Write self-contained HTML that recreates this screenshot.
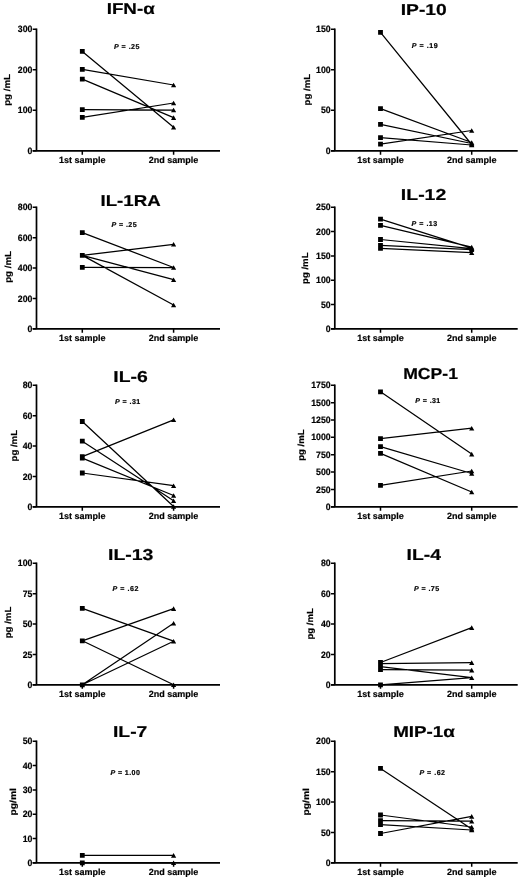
<!DOCTYPE html>
<html><head><meta charset="utf-8"><style>
html,body{margin:0;padding:0;background:#fff;width:520px;height:880px;overflow:hidden}
svg{display:block;filter:grayscale(100%)}
text{font-family:"Liberation Sans",sans-serif;font-weight:bold;fill:#000;text-rendering:geometricPrecision;stroke:#000;stroke-width:0.2}
.ax{stroke:#000;stroke-width:1.7;fill:none}
.tk{stroke:#000;stroke-width:1.5;fill:none}
.dl{stroke:#000;stroke-width:1.25;fill:none}
.mk{fill:#000}
</style></head><body>
<svg width="520" height="880" viewBox="0 0 520 880">
<path d="M36.5 28.45V150.8M32.7 150.8H220" class="ax"/>
<path d="M32.7 150.8H36.5M32.7 110.3H36.5M32.7 69.8H36.5M32.7 29.3H36.5M82.3 150.8V154.8M173.6 150.8V154.8" class="tk"/>
<path d="M82.3 51.4L173.6 127.3M82.3 69.4L173.6 85M82.3 79.1L173.6 117.6M82.3 109.7L173.6 110M82.3 117.3L173.6 103" class="dl"/>
<path d="M79.9 49h4.8v4.8h-4.8zM173.6 125L176.2 129.6H171zM79.9 67h4.8v4.8h-4.8zM173.6 82.7L176.2 87.3H171zM79.9 76.7h4.8v4.8h-4.8zM173.6 115.3L176.2 119.9H171zM79.9 107.3h4.8v4.8h-4.8zM173.6 107.7L176.2 112.3H171zM79.9 114.9h4.8v4.8h-4.8zM173.6 100.7L176.2 105.3H171z" class="mk"/>
<path d="M334.8 28.45V150.8M331 150.8H517.7" class="ax"/>
<path d="M331 150.8H334.8M331 110.3H334.8M331 69.8H334.8M331 29.3H334.8M380.5 150.8V154.8M471.7 150.8V154.8" class="tk"/>
<path d="M380.5 32.4L471.7 144.5M380.5 108.7L471.7 142.5M380.5 124.4L471.7 143.5M380.5 137.6L471.7 145M380.5 144.2L471.7 130.5" class="dl"/>
<path d="M378.1 30h4.8v4.8h-4.8zM471.7 142.2L474.3 146.8H469.1zM378.1 106.3h4.8v4.8h-4.8zM471.7 140.2L474.3 144.8H469.1zM378.1 122h4.8v4.8h-4.8zM471.7 141.2L474.3 145.8H469.1zM378.1 135.2h4.8v4.8h-4.8zM471.7 142.7L474.3 147.3H469.1zM378.1 141.8h4.8v4.8h-4.8zM471.7 128.2L474.3 132.8H469.1z" class="mk"/>
<path d="M36.5 206.45V328.8M32.7 328.8H220" class="ax"/>
<path d="M32.7 328.8H36.5M32.7 298.43H36.5M32.7 268.05H36.5M32.7 237.68H36.5M32.7 207.3H36.5M82.3 328.8V332.8M173.6 328.8V332.8" class="tk"/>
<path d="M82.3 232.6L173.6 267.5M82.3 255.4L173.6 244.3M82.3 255.4L173.6 279.7M82.3 255.4L173.6 305M82.3 267.3L173.6 267.5" class="dl"/>
<path d="M79.9 230.2h4.8v4.8h-4.8zM173.6 265.2L176.2 269.8H171zM79.9 253h4.8v4.8h-4.8zM173.6 242L176.2 246.6H171zM79.9 253h4.8v4.8h-4.8zM173.6 277.4L176.2 282H171zM79.9 253h4.8v4.8h-4.8zM173.6 302.7L176.2 307.3H171zM79.9 264.9h4.8v4.8h-4.8zM173.6 265.2L176.2 269.8H171z" class="mk"/>
<path d="M334.8 206.45V328.8M331 328.8H517.7" class="ax"/>
<path d="M331 328.8H334.8M331 304.5H334.8M331 280.2H334.8M331 255.9H334.8M331 231.6H334.8M331 207.3H334.8M380.5 328.8V332.8M471.7 328.8V332.8" class="tk"/>
<path d="M380.5 219.1L471.7 248.1M380.5 225.4L471.7 247.1M380.5 239.5L471.7 248.6M380.5 245.3L471.7 249.6M380.5 248.4L471.7 252.6" class="dl"/>
<path d="M378.1 216.7h4.8v4.8h-4.8zM471.7 245.8L474.3 250.4H469.1zM378.1 223h4.8v4.8h-4.8zM471.7 244.8L474.3 249.4H469.1zM378.1 237.1h4.8v4.8h-4.8zM471.7 246.3L474.3 250.9H469.1zM378.1 242.9h4.8v4.8h-4.8zM471.7 247.3L474.3 251.9H469.1zM378.1 246h4.8v4.8h-4.8zM471.7 250.3L474.3 254.9H469.1z" class="mk"/>
<path d="M36.5 384.45V506.8M32.7 506.8H220" class="ax"/>
<path d="M32.7 506.8H36.5M32.7 476.43H36.5M32.7 446.05H36.5M32.7 415.68H36.5M32.7 385.3H36.5M82.3 506.8V510.8M173.6 506.8V510.8" class="tk"/>
<path d="M82.3 421.5L173.6 506.5M82.3 441.2L173.6 500.7M82.3 458.2L173.6 495.5M82.3 456.6L173.6 419.8M82.3 473L173.6 485.7" class="dl"/>
<path d="M79.9 419.1h4.8v4.8h-4.8zM173.6 504.2L176.2 508.8H171zM79.9 438.8h4.8v4.8h-4.8zM173.6 498.4L176.2 503H171zM79.9 455.8h4.8v4.8h-4.8zM173.6 493.2L176.2 497.8H171zM79.9 454.2h4.8v4.8h-4.8zM173.6 417.5L176.2 422.1H171zM79.9 470.6h4.8v4.8h-4.8zM173.6 483.4L176.2 488H171z" class="mk"/>
<path d="M334.8 384.45V506.8M331 506.8H517.7" class="ax"/>
<path d="M331 506.8H334.8M331 489.44H334.8M331 472.09H334.8M331 454.73H334.8M331 437.37H334.8M331 420.01H334.8M331 402.66H334.8M331 385.3H334.8M380.5 506.8V510.8M471.7 506.8V510.8" class="tk"/>
<path d="M380.5 391.8L471.7 454.1M380.5 438.6L471.7 428.2M380.5 446.7L471.7 473.5M380.5 453.4L471.7 492M380.5 485.4L471.7 471" class="dl"/>
<path d="M378.1 389.4h4.8v4.8h-4.8zM471.7 451.8L474.3 456.4H469.1zM378.1 436.2h4.8v4.8h-4.8zM471.7 425.9L474.3 430.5H469.1zM378.1 444.3h4.8v4.8h-4.8zM471.7 471.2L474.3 475.8H469.1zM378.1 451h4.8v4.8h-4.8zM471.7 489.7L474.3 494.3H469.1zM378.1 483h4.8v4.8h-4.8zM471.7 468.7L474.3 473.3H469.1z" class="mk"/>
<path d="M36.5 562.45V684.8M32.7 684.8H220" class="ax"/>
<path d="M32.7 684.8H36.5M32.7 654.42H36.5M32.7 624.05H36.5M32.7 593.67H36.5M32.7 563.3H36.5M82.3 684.8V688.8M173.6 684.8V688.8" class="tk"/>
<path d="M82.3 608.4L173.6 641.2M82.3 640.8L173.6 608.6M82.3 640.8L173.6 684.8M82.3 684.8L173.6 623.2M82.3 684.8L173.6 641.2" class="dl"/>
<path d="M79.9 606h4.8v4.8h-4.8zM173.6 638.9L176.2 643.5H171zM79.9 638.4h4.8v4.8h-4.8zM173.6 606.3L176.2 610.9H171zM79.9 638.4h4.8v4.8h-4.8zM173.6 682.5L176.2 687.1H171zM79.9 682.4h4.8v4.8h-4.8zM173.6 620.9L176.2 625.5H171zM79.9 682.4h4.8v4.8h-4.8zM173.6 638.9L176.2 643.5H171z" class="mk"/>
<path d="M334.8 562.45V684.8M331 684.8H517.7" class="ax"/>
<path d="M331 684.8H334.8M331 654.42H334.8M331 624.05H334.8M331 593.67H334.8M331 563.3H334.8M380.5 684.8V688.8M471.7 684.8V688.8" class="tk"/>
<path d="M380.5 662.5L471.7 627.6M380.5 663.5L471.7 662.6M380.5 666.6L471.7 677.7M380.5 669.6L471.7 670.1M380.5 684.8L471.7 677.7" class="dl"/>
<path d="M378.1 660.1h4.8v4.8h-4.8zM471.7 625.3L474.3 629.9H469.1zM378.1 661.1h4.8v4.8h-4.8zM471.7 660.3L474.3 664.9H469.1zM378.1 664.2h4.8v4.8h-4.8zM471.7 675.4L474.3 680H469.1zM378.1 667.2h4.8v4.8h-4.8zM471.7 667.8L474.3 672.4H469.1zM378.1 682.4h4.8v4.8h-4.8zM471.7 675.4L474.3 680H469.1z" class="mk"/>
<path d="M36.5 740.45V862.8M32.7 862.8H220" class="ax"/>
<path d="M32.7 862.8H36.5M32.7 838.5H36.5M32.7 814.2H36.5M32.7 789.9H36.5M32.7 765.6H36.5M32.7 741.3H36.5M82.3 862.8V866.8M173.6 862.8V866.8" class="tk"/>
<path d="M82.3 855.4L173.6 855.4M82.3 862.8L173.6 862.8" class="dl"/>
<path d="M79.9 853h4.8v4.8h-4.8zM173.6 853.1L176.2 857.7H171zM79.9 860.4h4.8v4.8h-4.8zM173.6 860.5L176.2 865.1H171z" class="mk"/>
<path d="M334.8 740.45V862.8M331 862.8H517.7" class="ax"/>
<path d="M331 862.8H334.8M331 832.42H334.8M331 802.05H334.8M331 771.67H334.8M331 741.3H334.8M380.5 862.8V866.8M471.7 862.8V866.8" class="tk"/>
<path d="M380.5 768.4L471.7 829M380.5 815L471.7 827M380.5 820.7L471.7 821.2M380.5 824.7L471.7 830M380.5 833.5L471.7 816.4" class="dl"/>
<path d="M378.1 766h4.8v4.8h-4.8zM471.7 826.7L474.3 831.3H469.1zM378.1 812.6h4.8v4.8h-4.8zM471.7 824.7L474.3 829.3H469.1zM378.1 818.3h4.8v4.8h-4.8zM471.7 818.9L474.3 823.5H469.1zM378.1 822.3h4.8v4.8h-4.8zM471.7 827.7L474.3 832.3H469.1zM378.1 831.1h4.8v4.8h-4.8zM471.7 814.1L474.3 818.7H469.1z" class="mk"/>
<text x="106.71" y="14.09" font-size="15.8" textLength="48" lengthAdjust="spacingAndGlyphs" stroke="#000" stroke-width="0.9">IFN-α</text>
<text x="400.75" y="14.8" font-size="15.8" textLength="46.05" lengthAdjust="spacingAndGlyphs" stroke="#000" stroke-width="0.9">IP-10</text>
<text x="100.48" y="206.09" font-size="15.8" textLength="60.21" lengthAdjust="spacingAndGlyphs" stroke="#000" stroke-width="0.9">IL-1RA</text>
<text x="400.85" y="200.14" font-size="15.8" textLength="45.43" lengthAdjust="spacingAndGlyphs" stroke="#000" stroke-width="0.9">IL-12</text>
<text x="113.31" y="382.34" font-size="15.8" textLength="34.41" lengthAdjust="spacingAndGlyphs" stroke="#000" stroke-width="0.9">IL-6</text>
<text x="403.23" y="378.88" font-size="15.8" textLength="54.72" lengthAdjust="spacingAndGlyphs" stroke="#000" stroke-width="0.9">MCP-1</text>
<text x="108.01" y="560.28" font-size="15.8" textLength="45.46" lengthAdjust="spacingAndGlyphs" stroke="#000" stroke-width="0.9">IL-13</text>
<text x="406.56" y="559.54" font-size="15.8" textLength="34.35" lengthAdjust="spacingAndGlyphs" stroke="#000" stroke-width="0.9">IL-4</text>
<text x="112.99" y="737.02" font-size="15.8" textLength="34.35" lengthAdjust="spacingAndGlyphs" stroke="#000" stroke-width="0.9">IL-7</text>
<text x="393.17" y="737.41" font-size="15.8" textLength="61.74" lengthAdjust="spacingAndGlyphs" stroke="#000" stroke-width="0.9">MIP-1α</text>
<text x="114.01" y="49" font-size="7.1" textLength="25.43" lengthAdjust="spacing"><tspan font-style="italic">P</tspan>&#160;=&#160;.25</text>
<text x="411.85" y="48" font-size="7.1" textLength="25.84" lengthAdjust="spacing"><tspan font-style="italic">P</tspan>&#160;=&#160;.19</text>
<text x="111.51" y="227" font-size="7.1" textLength="25.15" lengthAdjust="spacing"><tspan font-style="italic">P</tspan>&#160;=&#160;.25</text>
<text x="411.51" y="226" font-size="7.1" textLength="25.77" lengthAdjust="spacing"><tspan font-style="italic">P</tspan>&#160;=&#160;.13</text>
<text x="115.06" y="404" font-size="7.1" textLength="25.25" lengthAdjust="spacing"><tspan font-style="italic">P</tspan>&#160;=&#160;.31</text>
<text x="415.23" y="403" font-size="7.1" textLength="25.08" lengthAdjust="spacing"><tspan font-style="italic">P</tspan>&#160;=&#160;.31</text>
<text x="112.44" y="591" font-size="7.1" textLength="25.9" lengthAdjust="spacing"><tspan font-style="italic">P</tspan>&#160;=&#160;.62</text>
<text x="414.01" y="591" font-size="7.1" textLength="25.08" lengthAdjust="spacing"><tspan font-style="italic">P</tspan>&#160;=&#160;.75</text>
<text x="110.44" y="775" font-size="7.1" textLength="29.42" lengthAdjust="spacing"><tspan font-style="italic">P</tspan>&#160;=&#160;1.00</text>
<text x="419.44" y="775" font-size="7.1" textLength="25.57" lengthAdjust="spacing"><tspan font-style="italic">P</tspan>&#160;=&#160;.62</text>
<text x="10.3" y="105.82" font-size="8.8" textLength="31.9" lengthAdjust="spacingAndGlyphs" transform="rotate(-90 10.3 105.82)">pg&#160;/mL</text>
<text x="309.58" y="105.48" font-size="8.8" textLength="31.56" lengthAdjust="spacingAndGlyphs" transform="rotate(-90 309.58 105.48)">pg&#160;/mL</text>
<text x="10.7" y="282.82" font-size="8.8" textLength="31.9" lengthAdjust="spacingAndGlyphs" transform="rotate(-90 10.7 282.82)">pg&#160;/mL</text>
<text x="307.76" y="283.98" font-size="8.8" textLength="31.53" lengthAdjust="spacingAndGlyphs" transform="rotate(-90 307.76 283.98)">pg&#160;/mL</text>
<text x="16.76" y="461.48" font-size="8.8" textLength="31.56" lengthAdjust="spacingAndGlyphs" transform="rotate(-90 16.76 461.48)">pg&#160;/mL</text>
<text x="303.66" y="460.83" font-size="8.8" textLength="31.39" lengthAdjust="spacingAndGlyphs" transform="rotate(-90 303.66 460.83)">pg&#160;/mL</text>
<text x="10.88" y="638.25" font-size="8.8" textLength="31.52" lengthAdjust="spacingAndGlyphs" transform="rotate(-90 10.88 638.25)">pg&#160;/mL</text>
<text x="313.27" y="639.51" font-size="8.8" textLength="31.33" lengthAdjust="spacingAndGlyphs" transform="rotate(-90 313.27 639.51)">pg&#160;/mL</text>
<text x="15.85" y="815.52" font-size="8.8" textLength="27.49" lengthAdjust="spacingAndGlyphs" transform="rotate(-90 15.85 815.52)">pg/ml</text>
<text x="308.85" y="815.52" font-size="8.8" textLength="27.49" lengthAdjust="spacingAndGlyphs" transform="rotate(-90 308.85 815.52)">pg/ml</text>
<text x="32.4" y="153.9" font-size="9.2" text-anchor="end" textLength="4.86" lengthAdjust="spacingAndGlyphs">0</text>
<text x="32.4" y="113.4" font-size="9.2" text-anchor="end" textLength="14.58" lengthAdjust="spacingAndGlyphs">100</text>
<text x="32.4" y="72.9" font-size="9.2" text-anchor="end" textLength="14.58" lengthAdjust="spacingAndGlyphs">200</text>
<text x="32.4" y="32.4" font-size="9.2" text-anchor="end" textLength="14.58" lengthAdjust="spacingAndGlyphs">300</text>
<text x="82.3" y="163" font-size="9" text-anchor="middle">1st&#160;sample</text>
<text x="173.6" y="163" font-size="9" text-anchor="middle">2nd&#160;sample</text>
<text x="330.7" y="153.9" font-size="9.2" text-anchor="end" textLength="4.86" lengthAdjust="spacingAndGlyphs">0</text>
<text x="330.7" y="113.4" font-size="9.2" text-anchor="end" textLength="9.72" lengthAdjust="spacingAndGlyphs">50</text>
<text x="330.7" y="72.9" font-size="9.2" text-anchor="end" textLength="14.58" lengthAdjust="spacingAndGlyphs">100</text>
<text x="330.7" y="32.4" font-size="9.2" text-anchor="end" textLength="14.58" lengthAdjust="spacingAndGlyphs">150</text>
<text x="380.5" y="163" font-size="9" text-anchor="middle">1st&#160;sample</text>
<text x="471.7" y="163" font-size="9" text-anchor="middle">2nd&#160;sample</text>
<text x="32.4" y="331.9" font-size="9.2" text-anchor="end" textLength="4.86" lengthAdjust="spacingAndGlyphs">0</text>
<text x="32.4" y="301.53" font-size="9.2" text-anchor="end" textLength="14.58" lengthAdjust="spacingAndGlyphs">200</text>
<text x="32.4" y="271.15" font-size="9.2" text-anchor="end" textLength="14.58" lengthAdjust="spacingAndGlyphs">400</text>
<text x="32.4" y="240.78" font-size="9.2" text-anchor="end" textLength="14.58" lengthAdjust="spacingAndGlyphs">600</text>
<text x="32.4" y="210.4" font-size="9.2" text-anchor="end" textLength="14.58" lengthAdjust="spacingAndGlyphs">800</text>
<text x="82.3" y="341" font-size="9" text-anchor="middle">1st&#160;sample</text>
<text x="173.6" y="341" font-size="9" text-anchor="middle">2nd&#160;sample</text>
<text x="330.7" y="331.9" font-size="9.2" text-anchor="end" textLength="4.86" lengthAdjust="spacingAndGlyphs">0</text>
<text x="330.7" y="307.6" font-size="9.2" text-anchor="end" textLength="9.72" lengthAdjust="spacingAndGlyphs">50</text>
<text x="330.7" y="283.3" font-size="9.2" text-anchor="end" textLength="14.58" lengthAdjust="spacingAndGlyphs">100</text>
<text x="330.7" y="259" font-size="9.2" text-anchor="end" textLength="14.58" lengthAdjust="spacingAndGlyphs">150</text>
<text x="330.7" y="234.7" font-size="9.2" text-anchor="end" textLength="14.58" lengthAdjust="spacingAndGlyphs">200</text>
<text x="330.7" y="210.4" font-size="9.2" text-anchor="end" textLength="14.58" lengthAdjust="spacingAndGlyphs">250</text>
<text x="380.5" y="341" font-size="9" text-anchor="middle">1st&#160;sample</text>
<text x="471.7" y="341" font-size="9" text-anchor="middle">2nd&#160;sample</text>
<text x="32.4" y="509.9" font-size="9.2" text-anchor="end" textLength="4.86" lengthAdjust="spacingAndGlyphs">0</text>
<text x="32.4" y="479.53" font-size="9.2" text-anchor="end" textLength="9.72" lengthAdjust="spacingAndGlyphs">20</text>
<text x="32.4" y="449.15" font-size="9.2" text-anchor="end" textLength="9.72" lengthAdjust="spacingAndGlyphs">40</text>
<text x="32.4" y="418.78" font-size="9.2" text-anchor="end" textLength="9.72" lengthAdjust="spacingAndGlyphs">60</text>
<text x="32.4" y="388.4" font-size="9.2" text-anchor="end" textLength="9.72" lengthAdjust="spacingAndGlyphs">80</text>
<text x="82.3" y="519" font-size="9" text-anchor="middle">1st&#160;sample</text>
<text x="173.6" y="519" font-size="9" text-anchor="middle">2nd&#160;sample</text>
<text x="330.7" y="509.9" font-size="9.2" text-anchor="end" textLength="4.86" lengthAdjust="spacingAndGlyphs">0</text>
<text x="330.7" y="492.54" font-size="9.2" text-anchor="end" textLength="14.58" lengthAdjust="spacingAndGlyphs">250</text>
<text x="330.7" y="475.19" font-size="9.2" text-anchor="end" textLength="14.58" lengthAdjust="spacingAndGlyphs">500</text>
<text x="330.7" y="457.83" font-size="9.2" text-anchor="end" textLength="14.58" lengthAdjust="spacingAndGlyphs">750</text>
<text x="330.7" y="440.47" font-size="9.2" text-anchor="end" textLength="19.44" lengthAdjust="spacingAndGlyphs">1000</text>
<text x="330.7" y="423.11" font-size="9.2" text-anchor="end" textLength="19.44" lengthAdjust="spacingAndGlyphs">1250</text>
<text x="330.7" y="405.76" font-size="9.2" text-anchor="end" textLength="19.44" lengthAdjust="spacingAndGlyphs">1500</text>
<text x="330.7" y="388.4" font-size="9.2" text-anchor="end" textLength="19.44" lengthAdjust="spacingAndGlyphs">1750</text>
<text x="380.5" y="519" font-size="9" text-anchor="middle">1st&#160;sample</text>
<text x="471.7" y="519" font-size="9" text-anchor="middle">2nd&#160;sample</text>
<text x="32.4" y="687.9" font-size="9.2" text-anchor="end" textLength="4.86" lengthAdjust="spacingAndGlyphs">0</text>
<text x="32.4" y="657.52" font-size="9.2" text-anchor="end" textLength="9.72" lengthAdjust="spacingAndGlyphs">25</text>
<text x="32.4" y="627.15" font-size="9.2" text-anchor="end" textLength="9.72" lengthAdjust="spacingAndGlyphs">50</text>
<text x="32.4" y="596.77" font-size="9.2" text-anchor="end" textLength="9.72" lengthAdjust="spacingAndGlyphs">75</text>
<text x="32.4" y="566.4" font-size="9.2" text-anchor="end" textLength="14.58" lengthAdjust="spacingAndGlyphs">100</text>
<text x="82.3" y="697" font-size="9" text-anchor="middle">1st&#160;sample</text>
<text x="173.6" y="697" font-size="9" text-anchor="middle">2nd&#160;sample</text>
<text x="330.7" y="687.9" font-size="9.2" text-anchor="end" textLength="4.86" lengthAdjust="spacingAndGlyphs">0</text>
<text x="330.7" y="657.52" font-size="9.2" text-anchor="end" textLength="9.72" lengthAdjust="spacingAndGlyphs">20</text>
<text x="330.7" y="627.15" font-size="9.2" text-anchor="end" textLength="9.72" lengthAdjust="spacingAndGlyphs">40</text>
<text x="330.7" y="596.77" font-size="9.2" text-anchor="end" textLength="9.72" lengthAdjust="spacingAndGlyphs">60</text>
<text x="330.7" y="566.4" font-size="9.2" text-anchor="end" textLength="9.72" lengthAdjust="spacingAndGlyphs">80</text>
<text x="380.5" y="697" font-size="9" text-anchor="middle">1st&#160;sample</text>
<text x="471.7" y="697" font-size="9" text-anchor="middle">2nd&#160;sample</text>
<text x="32.4" y="865.9" font-size="9.2" text-anchor="end" textLength="4.86" lengthAdjust="spacingAndGlyphs">0</text>
<text x="32.4" y="841.6" font-size="9.2" text-anchor="end" textLength="9.72" lengthAdjust="spacingAndGlyphs">10</text>
<text x="32.4" y="817.3" font-size="9.2" text-anchor="end" textLength="9.72" lengthAdjust="spacingAndGlyphs">20</text>
<text x="32.4" y="793" font-size="9.2" text-anchor="end" textLength="9.72" lengthAdjust="spacingAndGlyphs">30</text>
<text x="32.4" y="768.7" font-size="9.2" text-anchor="end" textLength="9.72" lengthAdjust="spacingAndGlyphs">40</text>
<text x="32.4" y="744.4" font-size="9.2" text-anchor="end" textLength="9.72" lengthAdjust="spacingAndGlyphs">50</text>
<text x="82.3" y="875" font-size="9" text-anchor="middle">1st&#160;sample</text>
<text x="173.6" y="875" font-size="9" text-anchor="middle">2nd&#160;sample</text>
<text x="330.7" y="865.9" font-size="9.2" text-anchor="end" textLength="4.86" lengthAdjust="spacingAndGlyphs">0</text>
<text x="330.7" y="835.52" font-size="9.2" text-anchor="end" textLength="9.72" lengthAdjust="spacingAndGlyphs">50</text>
<text x="330.7" y="805.15" font-size="9.2" text-anchor="end" textLength="14.58" lengthAdjust="spacingAndGlyphs">100</text>
<text x="330.7" y="774.77" font-size="9.2" text-anchor="end" textLength="14.58" lengthAdjust="spacingAndGlyphs">150</text>
<text x="330.7" y="744.4" font-size="9.2" text-anchor="end" textLength="14.58" lengthAdjust="spacingAndGlyphs">200</text>
<text x="380.5" y="875" font-size="9" text-anchor="middle">1st&#160;sample</text>
<text x="471.7" y="875" font-size="9" text-anchor="middle">2nd&#160;sample</text>
</svg>
</body></html>
